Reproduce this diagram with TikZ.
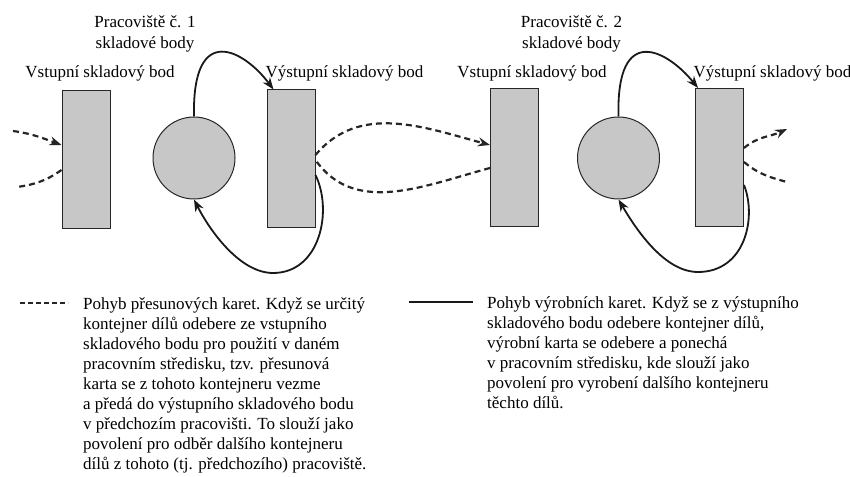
\documentclass[tikz,border=0pt]{standalone}
\usepackage{fontspec}
\setmainfont{Liberation Serif}
\usetikzlibrary{arrows.meta}

\begin{document}
\begin{tikzpicture}[x=1pt, y=1pt,
    stockBox/.style={rectangle, draw=black!85, fill=black!22, line width=1pt, minimum width=48pt, minimum height=138pt, inner sep=0pt},
    workCircle/.style={circle, draw=black!85, fill=black!22, line width=1pt, minimum size=82pt, inner sep=0pt},
    lbl/.style={font=\fontsize{17}{21}\selectfont, inner sep=0pt, align=center},
    legendText/.style={font=\fontsize{17}{20.1}\selectfont, inner sep=0pt, align=left, anchor=north west},
    moveCard/.style={black!85, line width=2.2pt, dash pattern=on 6pt off 4pt},
    prodCard/.style={black!90, line width=1.8pt},
    cardTip/.style={-{Stealth[length=12pt, width=9pt]}}
]
    \useasboundingbox (0,0) rectangle (850,476);

    % pracoviste 1
    \node[stockBox] (in1) at (86, 316.5) {};
    \node[workCircle] (ws1) at (194, 318) {};
    \node[stockBox] (out1) at (291, 317) {};

    % pracoviste 2
    \node[stockBox] (in2) at (514.5, 318) {};
    \node[workCircle] (ws2) at (618.5, 318) {};
    \node[stockBox] (out2) at (719.5, 318.5) {};

    \node[lbl] (ws1lbl) at (145, 442.5) {Pracoviště č. 1\\skladové body};
    \node[lbl] (in1lbl) at (100, 403) {Vstupní skladový bod};
    \node[lbl] (out1lbl) at (344.5, 403) {Výstupní skladový bod};
    \node[lbl] (ws2lbl) at (571.5, 442.5) {Pracoviště č. 2\\skladové body};
    \node[lbl] (in2lbl) at (532, 403) {Vstupní skladový bod};
    \node[lbl] (out2lbl) at (772.5, 403) {Výstupní skladový bod};

    % presunove karty
    \coordinate (inA) at (13, 345);
    \coordinate (inB) at (17, 289);
    \coordinate (outA) at (787, 347);
    \coordinate (outB) at (787, 294);
    \draw[moveCard, cardTip] (inA) to[out=-8, in=160] ([yshift=14.5pt]in1.west);
    \draw[moveCard] ([yshift=-10.5pt]in1.west) to[out=215, in=8] (inB);
    \draw[moveCard, cardTip] ([yshift=4pt]out1.east) to[out=50, in=165] ([yshift=13pt]in2.west);
    \draw[moveCard] ([yshift=-10pt]in2.west) to[out=195, in=-55] ([yshift=-1pt]out1.east);
    \draw[moveCard, cardTip] ([yshift=9.5pt]out2.east) to[out=40, in=205] (outA);
    \draw[moveCard] ([yshift=-4.5pt]out2.east) to[out=-40, in=165] (outB);

    % vyrobni karty
    \draw[prodCard, cardTip] (ws1.north) .. controls (192,455) and (244,426) .. ([xshift=7pt]out1.north west);
    \draw[prodCard, cardTip] ([yshift=-16pt]out1.east) .. controls (333,265) and (320,203) .. (273,203)
        .. controls (240,203) and (210,245) .. (ws1.south);
    \draw[prodCard, cardTip] (ws2.north) .. controls (616,455) and (668,425) .. ([xshift=3pt]out2.north west);
    \draw[prodCard, cardTip] ([yshift=-27.5pt]out2.east) .. controls (757,258) and (745,204) .. (698,204)
        .. controls (665,204) and (637,245) .. (ws2.south);

    % legenda
    \coordinate (moveA) at (20,173);
    \coordinate (moveB) at (68,173);
    \coordinate (prodA) at (409,174);
    \coordinate (prodB) at (473,174);
    \draw[moveCard, line width=1.6pt, dash pattern=on 5pt off 3pt] (moveA) -- (moveB);
    \draw[prodCard, line width=2pt] (prodA) -- (prodB);

    \node[legendText] (moveTxt) at (83, 179) {Pohyb přesunových karet. Když se určitý\\
        kontejner dílů odebere ze vstupního\\
        skladového bodu pro použití v daném\\
        pracovním středisku, tzv. přesunová\\
        karta se z tohoto kontejneru vezme\\
        a předá do výstupního skladového bodu\\
        v předchozím pracovišti. To slouží jako\\
        povolení pro odběr dalšího kontejneru\\
        dílů z tohoto (tj. předchozího) pracoviště.};
    \node[legendText] (prodTxt) at (487, 180) {Pohyb výrobních karet. Když se z výstupního\\
        skladového bodu odebere kontejner dílů,\\
        výrobní karta se odebere a ponechá\\
        v pracovním středisku, kde slouží jako\\
        povolení pro vyrobení dalšího kontejneru\\
        těchto dílů.};
\end{tikzpicture}
\end{document}
